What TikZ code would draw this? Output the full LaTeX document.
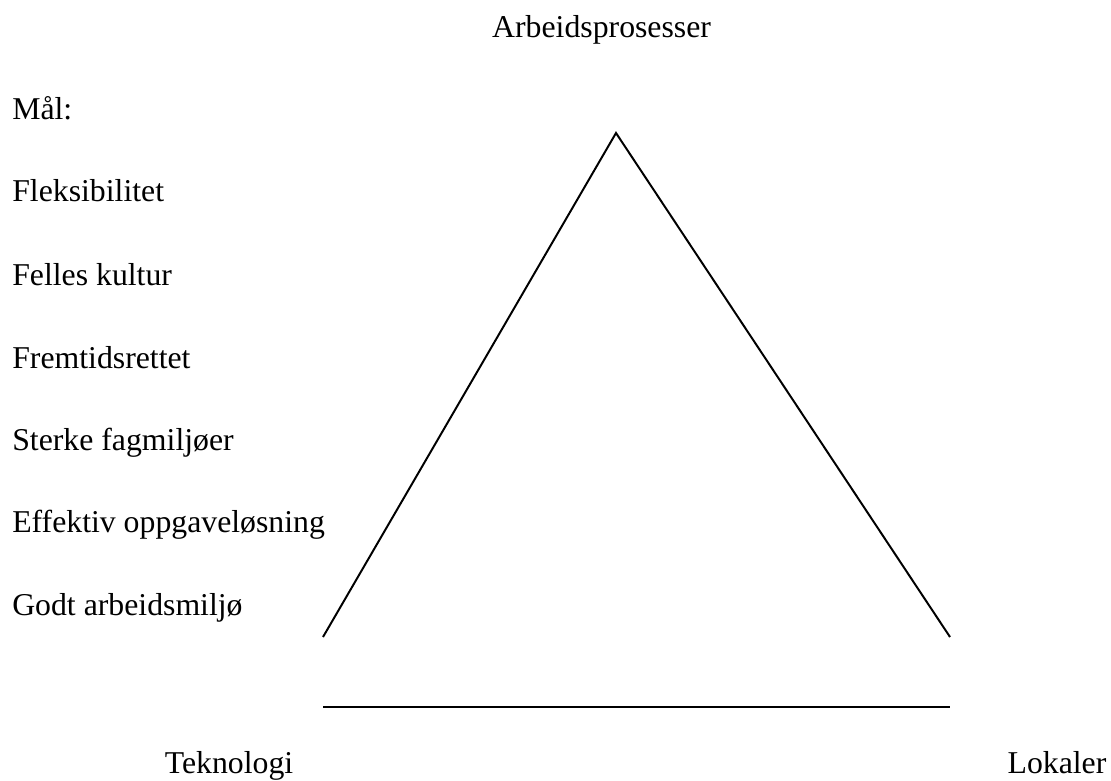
\documentclass[tikz,border=0pt]{standalone}
\usepackage{fontspec}
\setmainfont{Liberation Serif}
\usetikzlibrary{calc}

\begin{document}
\begin{tikzpicture}

\tikzstyle{label} = [inner sep=0, font=\fontsize{22.6}{27}\selectfont]
\tikzstyle{goal} = [label, anchor=base west]
\tikzstyle{corner} = [label, anchor=base]
\tikzstyle{side} = [line width=1.4pt, black]

\useasboundingbox (0,0) rectangle (27.775,19.5);

\node[corner] (top) at (15.04,18.55) {Arbeidsprosesser};
\node[corner] (tech) at (5.725,0.175) {Teknologi};
\node[corner] (room) at (26.425,0.175) {Lokaler};

\node[goal] (maal) at (0.3,16.5) {Mål:};
\node[goal] (flex) at (0.3,14.45) {Fleksibilitet};
\node[goal] (kult) at (0.3,12.375) {Felles kultur};
\node[goal] (frem) at (0.3,10.3) {Fremtidsrettet};
\node[goal] (fag) at (0.3,8.25) {Sterke fagmiljøer};
\node[goal] (eff) at (0.3,6.2) {Effektiv oppgaveløsning};
\node[goal] (miljo) at (0.3,4.125) {Godt arbeidsmiljø};

\coordinate (apex) at (15.4,16.175);
\coordinate (leftend) at (8.075,3.575);
\coordinate (rightend) at (23.75,3.575);
\coordinate (baseleft) at (8.075,1.825);
\coordinate (baseright) at (23.75,1.825);

\draw[side] (leftend) -- (apex) -- (rightend);
\draw[side, line width=1.6pt] (baseleft) -- (baseright);

\end{tikzpicture}
\end{document}
